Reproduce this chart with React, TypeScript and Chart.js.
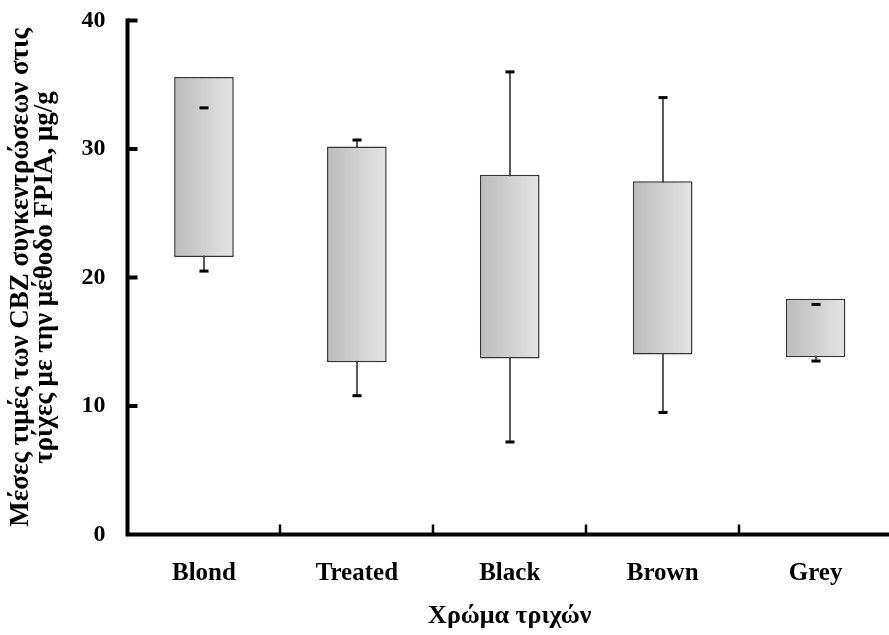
import React, { useEffect, useRef } from "react";
import { Chart, registerables } from "chart.js";

Chart.register(...registerables);

// Hair colour groups and the CBZ concentration summary for each (μg/g)
const categories = ["Blond", "Treated", "Black", "Brown", "Grey"];
const boxLow = [21.6, 13.4, 13.7, 14.0, 13.8];
const boxHigh = [35.6, 30.2, 28.0, 27.5, 18.35];
const whiskerLow = [20.5, 10.8, 7.2, 9.5, 13.5];
const whiskerHigh = [33.2, 30.7, 36.0, 34.0, 17.9];

const yMin = 0;
const yMax = 40;
const yStep = 10;

const yTitle = [
  "Μέσες τιμές των CBZ συγκεντρώσεων στις",
  "τρίχες με την μέθοδο FPIA, μg/g",
];
const xTitle = "Χρώμα τριχών";

const FONT = "'Liberation Serif', 'Times New Roman', serif";
const BAR_PCT = 0.39;

// Whisker lines behind the boxes, end caps on top, and the thick L-shaped axes
const boxPlotDecor = {
  id: "boxPlotDecor",
  beforeDatasetsDraw(chart: any) {
    const { ctx, scales } = chart;
    const x = scales.x;
    const y = scales.y;
    ctx.save();
    ctx.strokeStyle = "#222";
    ctx.lineWidth = 1.5;
    categories.forEach((_, i) => {
      const px = Math.round(x.getPixelForValue(i));
      ctx.beginPath();
      ctx.moveTo(px, y.getPixelForValue(whiskerLow[i]));
      ctx.lineTo(px, y.getPixelForValue(whiskerHigh[i]));
      ctx.stroke();
    });
    ctx.restore();
  },
  afterDatasetsDraw(chart: any) {
    const { ctx, scales } = chart;
    const x = scales.x;
    const y = scales.y;
    ctx.save();
    ctx.fillStyle = "#000";
    categories.forEach((_, i) => {
      const px = Math.round(x.getPixelForValue(i));
      [whiskerLow[i], whiskerHigh[i]].forEach((v) => {
        const py = y.getPixelForValue(v);
        ctx.fillRect(px - 4.5, py - 1.5, 9, 3);
      });
    });
    ctx.restore();
  },
  afterDraw(chart: any) {
    const { ctx, scales, chartArea } = chart;
    const x = scales.x;
    const y = scales.y;
    const left = chartArea.left;
    const right = chartArea.right;
    const top = y.getPixelForValue(yMax);
    const bottom = y.getPixelForValue(yMin);
    ctx.save();
    ctx.strokeStyle = "#000";
    ctx.lineWidth = 4;
    ctx.lineCap = "butt";
    ctx.beginPath();
    ctx.moveTo(left, top - 2);
    ctx.lineTo(left, bottom + 2);
    ctx.moveTo(left - 2, bottom);
    ctx.lineTo(right, bottom);
    ctx.stroke();
    // inward value ticks
    for (let v = yMin + yStep; v <= yMax; v += yStep) {
      const py = y.getPixelForValue(v);
      ctx.beginPath();
      ctx.moveTo(left, py);
      ctx.lineTo(left + 10, py);
      ctx.stroke();
    }
    // category boundary ticks pointing up
    ctx.lineWidth = 2.5;
    for (let i = 1; i < categories.length; i++) {
      const bx = Math.round((x.getPixelForValue(i - 1) + x.getPixelForValue(i)) / 2);
      ctx.beginPath();
      ctx.moveTo(bx, bottom);
      ctx.lineTo(bx, bottom - 10);
      ctx.stroke();
    }
    ctx.restore();
  },
};

const zeroScalePadding = (s: any) => {
  s.paddingTop = 0;
  s.paddingBottom = 0;
  s.paddingLeft = 0;
  s.paddingRight = 0;
};

export default function App() {
  const canvasRef = useRef<HTMLCanvasElement | null>(null);

  useEffect(() => {
    const canvas = canvasRef.current;
    if (!canvas) return;

    const chart = new Chart(canvas, {
      type: "bar",
      data: {
        labels: categories,
        datasets: [
          {
            data: categories.map((_, i) => [boxLow[i], boxHigh[i]]) as any,
            backgroundColor: (c: any) => {
              const ch = c.chart;
              const xs = ch.scales && ch.scales.x;
              if (!ch.chartArea || !xs) return "#d0d0d0";
              const cx = xs.getPixelForValue(c.dataIndex);
              const half = ((xs.right - xs.left) / categories.length) * BAR_PCT / 2;
              const g = ch.ctx.createLinearGradient(cx - half, 0, cx + half, 0);
              g.addColorStop(0, "#bcbcbc");
              g.addColorStop(1, "#e4e4e4");
              return g;
            },
            borderColor: "#333",
            borderWidth: 1.5,
            borderSkipped: false,
            barPercentage: BAR_PCT,
            categoryPercentage: 1,
          },
        ],
      },
      options: {
        responsive: false,
        animation: false,
        devicePixelRatio: 1,
        layout: { padding: { top: 20.5, right: 8, left: 0, bottom: 0 } },
        plugins: {
          legend: { display: false },
          tooltip: { enabled: false },
        },
        scales: {
          x: {
            type: "category",
            offset: true,
            grid: { display: false, drawTicks: false },
            border: { display: false },
            ticks: {
              color: "#000",
              padding: 24,
              font: { family: FONT, size: 25, weight: "bold" },
            },
            title: {
              display: true,
              text: xTitle,
              color: "#000",
              font: { family: FONT, size: 26, weight: "bold" },
              padding: { top: 0, bottom: 3 },
            },
            afterFit: (s: any) => {
              s.height = 100.5;
              zeroScalePadding(s);
            },
          },
          y: {
            min: yMin,
            max: yMax,
            grid: { display: false, drawTicks: false },
            border: { display: false },
            ticks: {
              stepSize: yStep,
              color: "#000",
              padding: 22,
              font: { family: FONT, size: 24, weight: "bold" },
            },
            title: {
              display: true,
              text: yTitle,
              color: "#000",
              font: { family: FONT, size: 27, weight: "bold", lineHeight: 23.5 / 27 },
              padding: { top: 9.5, bottom: 0 },
            },
            afterFit: (s: any) => {
              s.width = 127.5;
              zeroScalePadding(s);
            },
          },
        },
      },
      plugins: [boxPlotDecor],
    });

    return () => chart.destroy();
  }, []);

  return (
    <div
      style={{
        position: "fixed",
        left: 0,
        top: 0,
        width: 889,
        height: 635,
        overflow: "hidden",
        background: "#fff",
      }}
    >
      <canvas ref={canvasRef} width={900} height={635} style={{ display: "block" }} />
    </div>
  );
}
